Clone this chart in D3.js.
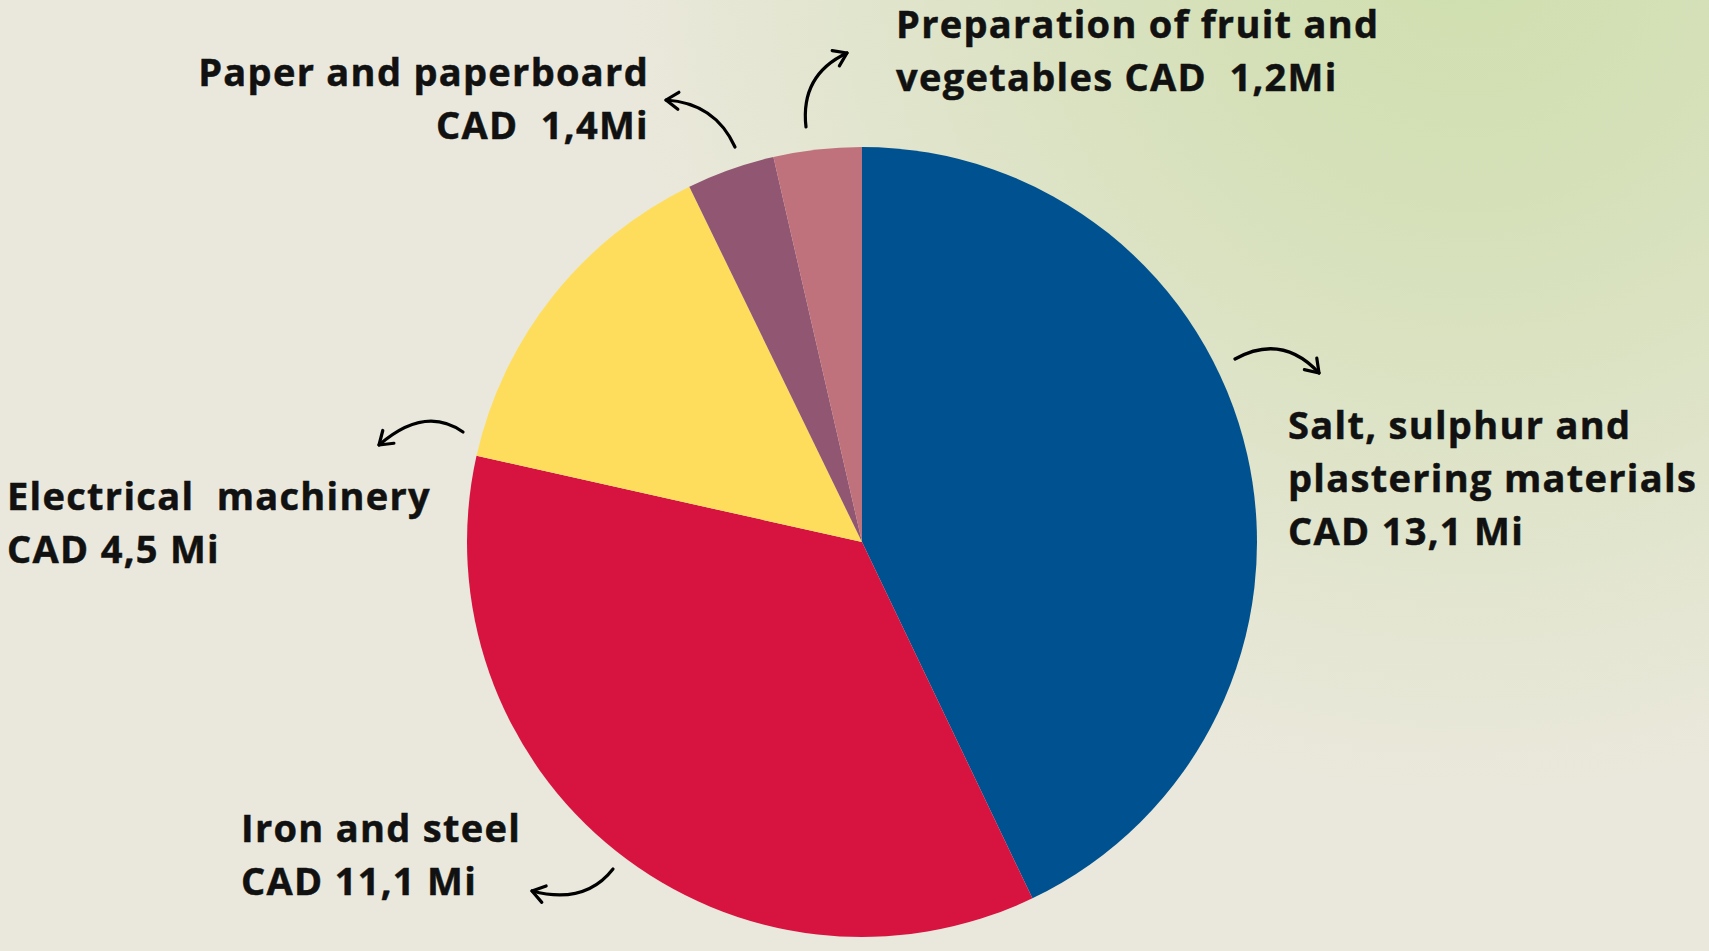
<!DOCTYPE html>
<html>
<head>
<meta charset="utf-8">
<script src="https://cdn.jsdelivr.net/npm/d3@7"></script>
<style>
  html, body { margin: 0; padding: 0; overflow: hidden; }
  text { white-space: pre; }
</style>
</head>
<body>
<svg id="chart"></svg>
<script>
// categories and values as written on the chart
const categories = [
  "Salt, sulphur and plastering materials",
  "Iron and steel",
  "Electrical machinery",
  "Paper and paperboard",
  "Preparation of fruit and vegetables"
];
const values = [13.1, 11.1, 4.5, 1.4, 1.2];
// slice sizes (%) as they are drawn in the picture
const shares = [42.9, 35.6, 14.3, 3.6, 3.6];
const colors = ["#00518f", "#d71440", "#ffdd5c", "#915672", "#bf717c"];
const labelLines = [
  ["Salt, sulphur and", "plastering materials", "CAD 13,1 Mi"],
  ["Iron and steel", "CAD 11,1 Mi"],
  ["Electrical  machinery", "CAD 4,5 Mi"],
  ["Paper and paperboard", "CAD  1,4Mi"],
  ["Preparation of fruit and", "vegetables CAD  1,2Mi"]
];

const width = 1709, height = 951;
const cx = 862, cy = 542, radius = 395;

// label placement
const labelPos = [
  {x: 1288, y: 439, anchor: "start"},
  {x: 241, y: 842, anchor: "start"},
  {x: 7, y: 510, anchor: "start"},
  {x: 649, y: 86, anchor: "end"},
  {x: 896, y: 38, anchor: "start"}
];
// curved arrows: start, control, tip
const arrows = [
  [1235, 359, 1282, 333, 1319, 373],
  [613, 869, 585, 905, 532, 891],
  [463, 432, 425, 405, 379, 445],
  [735, 147, 715, 103, 666, 100],
  [806, 127, 800, 75, 847, 53]
];

const svg = d3.select("#chart")
  .attr("width", width)
  .attr("height", height);

const defs = svg.append("defs");
const grad = defs.append("radialGradient")
  .attr("id", "bg")
  .attr("gradientUnits", "userSpaceOnUse")
  .attr("cx", 1470).attr("cy", -60).attr("r", 860);
grad.append("stop").attr("offset", "0%").attr("stop-color", "#cfdfae");
grad.append("stop").attr("offset", "30%").attr("stop-color", "#d5e0b8");
grad.append("stop").attr("offset", "100%").attr("stop-color", "#eae8dc");

svg.append("rect")
  .attr("width", width)
  .attr("height", height)
  .attr("fill", "#eae8dc");
svg.append("rect")
  .attr("width", width)
  .attr("height", height)
  .attr("fill", "url(#bg)");

const pie = d3.pie()
  .value(d => d)
  .sort(null);

const arc = d3.arc()
  .innerRadius(0)
  .outerRadius(radius);

const g = svg.append("g")
  .attr("transform", "translate(" + cx + "," + cy + ")");

g.selectAll("path")
  .data(pie(shares))
  .enter().append("path")
  .attr("d", arc)
  .attr("fill", (d, i) => colors[i]);

// labels
labelLines.forEach((lines, i) => {
  const p = labelPos[i];
  const t = svg.append("text")
    .attr("x", p.x)
    .attr("y", p.y)
    .attr("text-anchor", p.anchor)
    .attr("font-family", "'Open Sans', sans-serif")
    .attr("font-weight", 700)
    .attr("font-size", "38px")
    .attr("letter-spacing", "1.3px")
    .attr("fill", "#111")
    .attr("stroke", "#111")
    .attr("stroke-width", 0.5);
  lines.forEach((line, j) => {
    t.append("tspan")
      .attr("x", p.x)
      .attr("dy", j === 0 ? 0 : 53)
      .text(line);
  });
});

// arrows
arrows.forEach(a => {
  const [x1, y1, qx, qy, x2, y2] = a;
  const path = d3.path();
  path.moveTo(x1, y1);
  path.quadraticCurveTo(qx, qy, x2, y2);
  svg.append("path")
    .attr("d", path.toString())
    .attr("fill", "none")
    .attr("stroke", "#000")
    .attr("stroke-width", 3.2)
    .attr("stroke-linecap", "round");
  const ang = Math.atan2(y2 - qy, x2 - qx);
  const len = 15, spread = 0.6;
  const head = d3.path();
  head.moveTo(x2 - len * Math.cos(ang - spread), y2 - len * Math.sin(ang - spread));
  head.lineTo(x2, y2);
  head.lineTo(x2 - len * Math.cos(ang + spread), y2 - len * Math.sin(ang + spread));
  svg.append("path")
    .attr("d", head.toString())
    .attr("fill", "none")
    .attr("stroke", "#000")
    .attr("stroke-width", 3.2)
    .attr("stroke-linecap", "round")
    .attr("stroke-linejoin", "round");
});
</script>
</body>
</html>
